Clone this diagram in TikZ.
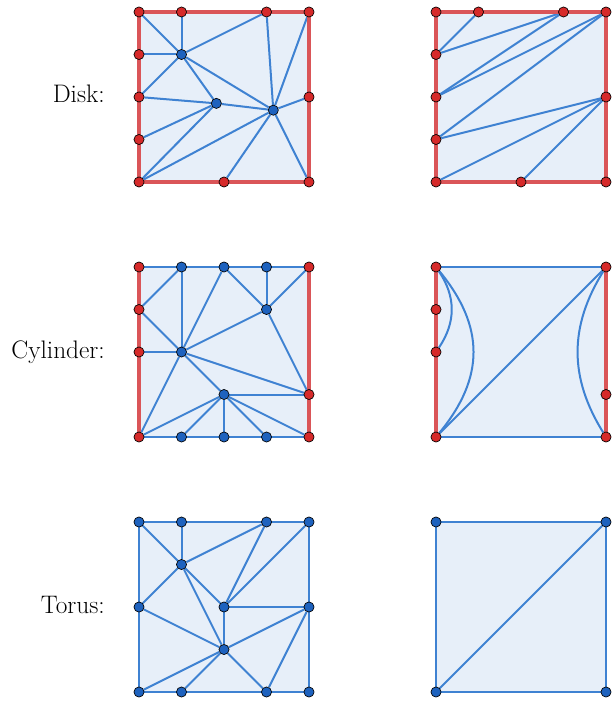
\documentclass[tikz,border=0pt]{standalone}
\usetikzlibrary{calc}
\definecolor{facec}{HTML}{E7EFF9}
\definecolor{bluel}{HTML}{3F82D2}
\definecolor{redl}{HTML}{DA5558}
\definecolor{redv}{HTML}{D62A2A}
\definecolor{bluev}{HTML}{1E62BE}
\pgfdeclarelayer{bg}
\pgfdeclarelayer{mid}
\pgfdeclarelayer{top}
\pgfsetlayers{bg,mid,top,main}
\tikzset{
  face/.style={fill=facec},
  edge/.style={draw=bluel, line width=1.5pt},
  rborder/.style={draw=redl, line width=2.6pt},
  bborder/.style={draw=bluel, line width=1.6pt},
  rv/.style={circle, fill=redv, draw=black, line width=0.5pt, inner sep=0pt, minimum size=7.6pt},
  bv/.style={circle, fill=bluev, draw=black, line width=0.5pt, inner sep=0pt, minimum size=7.6pt},
  lab/.style={anchor=base east, inner sep=0pt, font=\fontsize{19}{22}\selectfont},
}
\begin{document}
\begin{tikzpicture}[x=0.75pt, y=-0.75pt]
\useasboundingbox (0,0) rectangle (616,702);

\node[lab] (lDisk) at (105,103) {Disk:};
\node[lab] (lCyl) at (105,358) {Cylinder:};
\node[lab] (lTor) at (105,613) {Torus:};

% ---------------- Disk left ----------------
\begin{scope}[shift={(139,12)}, x=31.875pt, y=-31.875pt]
\node[rv] (a00) at (0,0) {};
\node[rv] (a10) at (1,0) {};
\node[rv] (a30) at (3,0) {};
\node[rv] (a40) at (4,0) {};
\node[rv] (a01) at (0,1) {};
\node[rv] (a02) at (0,2) {};
\node[rv] (a03) at (0,3) {};
\node[rv] (a04) at (0,4) {};
\node[rv] (a42) at (4,2) {};
\node[rv] (a24) at (2,4) {};
\node[rv] (a44) at (4,4) {};
\node[bv] (aA) at (1,1) {};
\node[bv] (aB) at (1.82,2.15) {};
\node[bv] (aC) at (3.16,2.31) {};
\begin{pgfonlayer}{bg}
\fill[face] (0,0) rectangle (4,4);
\end{pgfonlayer}
\begin{pgfonlayer}{mid}
\draw[edge] (aA) -- (a10);
\draw[edge] (aA) -- (a00);
\draw[edge] (aA) -- (a01);
\draw[edge] (aA) -- (a02);
\draw[edge] (aA) -- (a30);
\draw[edge] (aA) -- (aB);
\draw[edge] (aA) -- (aC);
\draw[edge] (aB) -- (a02);
\draw[edge] (aB) -- (a03);
\draw[edge] (aB) -- (a04);
\draw[edge] (aB) -- (aC);
\draw[edge] (aC) -- (a04);
\draw[edge] (aC) -- (a24);
\draw[edge] (aC) -- (a44);
\draw[edge] (aC) -- (a42);
\draw[edge] (aC) -- (a40);
\draw[edge] (aC) -- (a30);
\end{pgfonlayer}
\begin{pgfonlayer}{top}
\draw[rborder] (a00) -- (a40);
\draw[rborder] (a40) -- (a44);
\draw[rborder] (a44) -- (a04);
\draw[rborder] (a04) -- (a00);
\end{pgfonlayer}
\end{scope}

% ---------------- Disk right ----------------
\begin{scope}[shift={(436,12)}, x=31.875pt, y=-31.875pt]
\node[rv] (b00) at (0,0) {};
\node[rv] (b10) at (1,0) {};
\node[rv] (b30) at (3,0) {};
\node[rv] (b40) at (4,0) {};
\node[rv] (b01) at (0,1) {};
\node[rv] (b02) at (0,2) {};
\node[rv] (b03) at (0,3) {};
\node[rv] (b04) at (0,4) {};
\node[rv] (b42) at (4,2) {};
\node[rv] (b24) at (2,4) {};
\node[rv] (b44) at (4,4) {};
\begin{pgfonlayer}{bg}
\fill[face] (0,0) rectangle (4,4);
\end{pgfonlayer}
\begin{pgfonlayer}{mid}
\draw[edge] (b01) -- (b10);
\draw[edge] (b01) -- (b30);
\draw[edge] (b02) -- (b30);
\draw[edge] (b02) -- (b40);
\draw[edge] (b03) -- (b40);
\draw[edge] (b03) -- (b42);
\draw[edge] (b04) -- (b42);
\draw[edge] (b24) -- (b42);
\end{pgfonlayer}
\begin{pgfonlayer}{top}
\draw[rborder] (b00) -- (b40);
\draw[rborder] (b40) -- (b44);
\draw[rborder] (b44) -- (b04);
\draw[rborder] (b04) -- (b00);
\end{pgfonlayer}
\end{scope}

% ---------------- Cylinder left ----------------
\begin{scope}[shift={(139,267)}, x=31.875pt, y=-31.875pt]
\node[rv] (c00) at (0,0) {};
\node[bv] (c10) at (1,0) {};
\node[bv] (c20) at (2,0) {};
\node[bv] (c30) at (3,0) {};
\node[rv] (c40) at (4,0) {};
\node[rv] (c01) at (0,1) {};
\node[rv] (c02) at (0,2) {};
\node[rv] (c04) at (0,4) {};
\node[rv] (c43) at (4,3) {};
\node[rv] (c44) at (4,4) {};
\node[bv] (c14) at (1,4) {};
\node[bv] (c24) at (2,4) {};
\node[bv] (c34) at (3,4) {};
\node[bv] (c31) at (3,1) {};
\node[bv] (c12) at (1,2) {};
\node[bv] (c23) at (2,3) {};
\begin{pgfonlayer}{bg}
\fill[face] (0,0) rectangle (4,4);
\end{pgfonlayer}
\begin{pgfonlayer}{mid}
\draw[edge] (c01) -- (c10);
\draw[edge] (c10) -- (c12);
\draw[edge] (c01) -- (c12);
\draw[edge] (c02) -- (c12);
\draw[edge] (c20) -- (c12);
\draw[edge] (c20) -- (c31);
\draw[edge] (c30) -- (c31);
\draw[edge] (c40) -- (c31);
\draw[edge] (c31) -- (c12);
\draw[edge] (c31) -- (c43);
\draw[edge] (c12) -- (c43);
\draw[edge] (c12) -- (c23);
\draw[edge] (c12) -- (c04);
\draw[edge] (c23) -- (c43);
\draw[edge] (c23) -- (c04);
\draw[edge] (c23) -- (c14);
\draw[edge] (c23) -- (c24);
\draw[edge] (c23) -- (c34);
\draw[edge] (c23) -- (c44);
\draw[bborder] (c00) -- (c40);
\draw[bborder] (c04) -- (c44);
\end{pgfonlayer}
\begin{pgfonlayer}{top}
\draw[rborder] (c00) -- (c04);
\draw[rborder] (c40) -- (c44);
\end{pgfonlayer}
\end{scope}

% ---------------- Cylinder right ----------------
\begin{scope}[shift={(436,267)}, x=31.875pt, y=-31.875pt]
\node[rv] (d00) at (0,0) {};
\node[rv] (d01) at (0,1) {};
\node[rv] (d02) at (0,2) {};
\node[rv] (d04) at (0,4) {};
\node[rv] (d40) at (4,0) {};
\node[rv] (d43) at (4,3) {};
\node[rv] (d44) at (4,4) {};
\begin{pgfonlayer}{bg}
\fill[face] (0,0) rectangle (4,4);
\end{pgfonlayer}
\begin{pgfonlayer}{mid}
\draw[edge] (d04) -- (d40);
\draw[edge] (d00) .. controls (0.47,0.7) and (0.47,1.3) .. (d02);
\draw[edge] (d00) .. controls (1.15,1.4) and (1.15,2.6) .. (d04);
\draw[edge] (d40) .. controls (3.13,1.4) and (3.13,2.6) .. (d44);
\draw[bborder] (d00) -- (d40);
\draw[bborder] (d04) -- (d44);
\end{pgfonlayer}
\begin{pgfonlayer}{top}
\draw[rborder] (d00) -- (d04);
\draw[rborder] (d40) -- (d44);
\end{pgfonlayer}
\end{scope}

% ---------------- Torus left ----------------
\begin{scope}[shift={(139,522)}, x=31.875pt, y=-31.875pt]
\node[bv] (e00) at (0,0) {};
\node[bv] (e10) at (1,0) {};
\node[bv] (e30) at (3,0) {};
\node[bv] (e40) at (4,0) {};
\node[bv] (e02) at (0,2) {};
\node[bv] (e42) at (4,2) {};
\node[bv] (e04) at (0,4) {};
\node[bv] (e14) at (1,4) {};
\node[bv] (e34) at (3,4) {};
\node[bv] (e44) at (4,4) {};
\node[bv] (e11) at (1,1) {};
\node[bv] (e22) at (2,2) {};
\node[bv] (e23) at (2,3) {};
\begin{pgfonlayer}{bg}
\fill[face] (0,0) rectangle (4,4);
\end{pgfonlayer}
\begin{pgfonlayer}{mid}
\draw[edge] (e00) -- (e11);
\draw[edge] (e10) -- (e11);
\draw[edge] (e11) -- (e30);
\draw[edge] (e11) -- (e02);
\draw[edge] (e11) -- (e22);
\draw[edge] (e11) -- (e23);
\draw[edge] (e30) -- (e22);
\draw[edge] (e40) -- (e22);
\draw[edge] (e22) -- (e42);
\draw[edge] (e22) -- (e23);
\draw[edge] (e02) -- (e23);
\draw[edge] (e23) -- (e42);
\draw[edge] (e23) -- (e04);
\draw[edge] (e23) -- (e14);
\draw[edge] (e23) -- (e34);
\draw[edge] (e34) -- (e42);
\draw[bborder] (e00) -- (e40);
\draw[bborder] (e40) -- (e44);
\draw[bborder] (e44) -- (e04);
\draw[bborder] (e04) -- (e00);
\end{pgfonlayer}
\end{scope}

% ---------------- Torus right ----------------
\begin{scope}[shift={(436,522)}, x=31.875pt, y=-31.875pt]
\node[bv] (f00) at (0,0) {};
\node[bv] (f40) at (4,0) {};
\node[bv] (f04) at (0,4) {};
\node[bv] (f44) at (4,4) {};
\begin{pgfonlayer}{bg}
\fill[face] (0,0) rectangle (4,4);
\end{pgfonlayer}
\begin{pgfonlayer}{mid}
\draw[edge] (f04) -- (f40);
\draw[bborder] (f00) -- (f40);
\draw[bborder] (f40) -- (f44);
\draw[bborder] (f44) -- (f04);
\draw[bborder] (f04) -- (f00);
\end{pgfonlayer}
\end{scope}
\end{tikzpicture}
\end{document}
